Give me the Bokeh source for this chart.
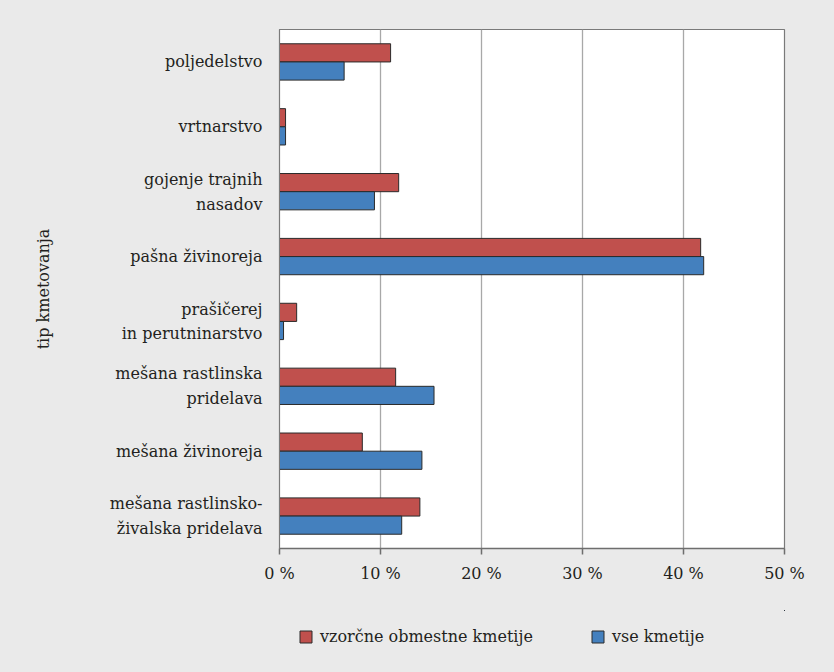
from bokeh.plotting import figure
from bokeh.layouts import column
from bokeh.models import (ColumnDataSource, FactorRange, Range1d, FixedTicker,
                          Legend, LegendItem)
from bokeh.transform import dodge
from bokeh.embed import file_html
from bokeh.resources import INLINE

categories = [
    "poljedelstvo",
    "vrtnarstvo",
    "gojenje trajnih\nnasadov",
    "pašna živinoreja",
    "prašičerej\nin perutninarstvo",
    "mešana rastlinska\npridelava",
    "mešana živinoreja",
    "mešana rastlinsko-\nživalska pridelava",
]
vzorcne = [11.0, 0.6, 11.8, 41.7, 1.7, 11.5, 8.2, 13.9]
vse = [6.4, 0.6, 9.4, 42.0, 0.4, 15.3, 14.1, 12.1]
x_ticks = [0, 10, 20, 30, 40, 50]
x_tick_labels = ["0 %", "10 %", "20 %", "30 %", "40 %", "50 %"]
series_names = ["vzorčne obmestne kmetije", "vse kmetije"]
axis_title = "tip kmetovanja"

FONT = "DejaVu Serif"
BG = "#eaeaea"
TXT = "#231f20"
RED = "#c0504d"
BLUE = "#4480be"
EDGE = "#2a2a2a"

src = ColumnDataSource(dict(cat=categories, a=vzorcne, b=vse))

p = figure(
    y_range=FactorRange(*reversed(categories), range_padding=0),
    x_range=Range1d(0, 50),
    frame_width=505, frame_height=519,
    min_border_left=279, min_border_top=29, min_border_right=50,
    min_border_bottom=62,
    output_backend="svg", toolbar_location=None,
    background_fill_color="white", border_fill_color=BG,
    outline_line_color="#7a7a7a", outline_line_width=1.2,
)

p.hbar(y=dodge("cat", 0.14, range=p.y_range), right="a", left=0, height=0.28,
       source=src, fill_color=RED, line_color=EDGE, line_width=1)
p.hbar(y=dodge("cat", -0.14, range=p.y_range), right="b", left=0, height=0.28,
       source=src, fill_color=BLUE, line_color=EDGE, line_width=1)

p.ygrid.visible = False
p.xgrid.ticker = FixedTicker(ticks=x_ticks)
p.xgrid.grid_line_color = "#a8a8a8"
p.xgrid.grid_line_width = 1.3

xa = p.xaxis[0]
xa.ticker = FixedTicker(ticks=x_ticks)
xa.major_label_overrides = {t: l for t, l in zip(x_ticks, x_tick_labels)}
xa.axis_line_color = "#6e6e6e"
xa.axis_line_width = 1.5
xa.major_tick_line_color = "#6e6e6e"
xa.major_tick_line_width = 1.5
xa.major_tick_out = 6
xa.major_tick_in = 0
xa.minor_tick_line_color = None
xa.major_label_standoff = 9
xa.major_label_text_font = FONT
xa.major_label_text_font_size = "16px"
xa.major_label_text_color = TXT

ya = p.yaxis[0]
ya.axis_line_color = "#7a7a7a"
ya.major_tick_line_color = None
ya.major_label_standoff = 11
ya.major_label_text_font = FONT
ya.major_label_text_font_size = "16px"
ya.major_label_text_color = TXT
ya.major_label_text_line_height = 1.3
ya.axis_label = axis_title
ya.axis_label_text_font = FONT
ya.axis_label_text_font_size = "16px"
ya.axis_label_text_font_style = "normal"
ya.axis_label_text_color = TXT
ya.axis_label_standoff = 54

# legend strip below the chart (its frame is aligned with the chart's frame).
# The proxy bars reuse the series data but lie entirely outside this strip's
# x and y ranges, so only their legend swatches are visible.
lg = figure(
    width=834, height=62, x_range=Range1d(-20, -10), y_range=Range1d(-20, -10),
    x_axis_type=None, y_axis_type=None,
    min_border=0,
    output_backend="svg", toolbar_location=None,
    background_fill_color=BG, background_fill_alpha=0,
    border_fill_color=BG, outline_line_color=None,
)
lg.xgrid.visible = False
lg.ygrid.visible = False
k1 = lg.hbar(y="a", right="a", left=0, height=0.5, source=src,
             fill_color=RED, line_color=EDGE, line_width=1)
k2 = lg.hbar(y="b", right="b", left=0, height=0.5, source=src,
             fill_color=BLUE, line_color=EDGE, line_width=1)
legend = Legend(
    items=[LegendItem(label=series_names[0], renderers=[k1], index=0),
           LegendItem(label=series_names[1], renderers=[k2], index=0)],
    orientation="horizontal", location=(19, 26),
    padding=0, margin=0, spacing=0,
    glyph_width=15, glyph_height=15, label_standoff=7, label_width=270,
    label_height=20,
    label_text_font=FONT, label_text_font_size="16px", label_text_color=TXT,
    background_fill_alpha=0, border_line_color=None,
)
lg.add_layout(legend, "center")

layout = column(p, lg, spacing=0, styles={"background-color": BG})
open("out.html", "w").write(file_html(layout, INLINE))
